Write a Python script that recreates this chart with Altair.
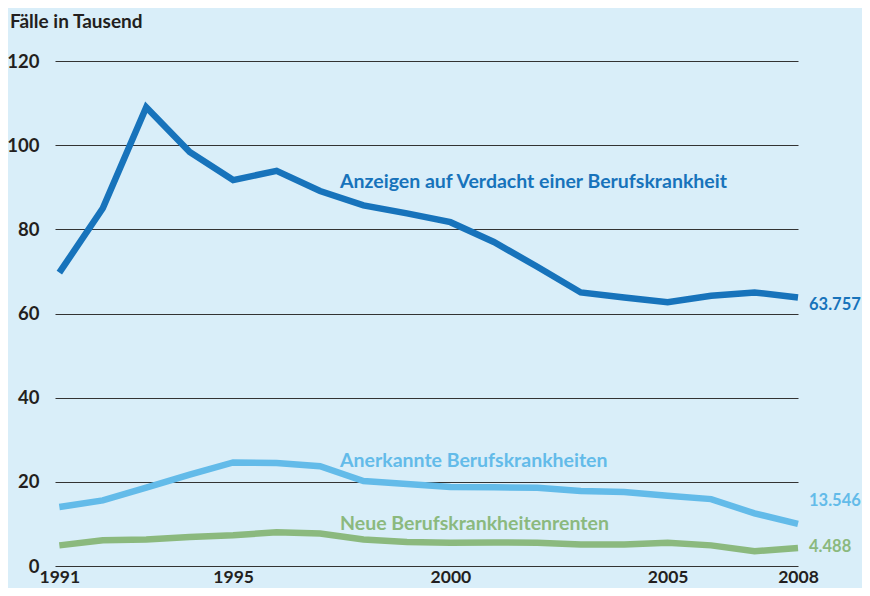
import altair as alt
import pandas as pd

years = list(range(1991, 2009))
anzeigen = [69.7, 85.0, 109.0, 98.4, 91.7, 93.9, 89.1, 85.7, 83.8, 81.7,
            77.0, 71.1, 65.0, 63.8, 62.7, 64.2, 65.0, 63.8]
anerkannt = [14.0, 15.6, 18.6, 21.7, 24.6, 24.5, 23.7, 20.2, 19.5, 18.8,
             18.7, 18.6, 17.8, 17.6, 16.7, 15.9, 12.5, 10.0]
renten = [4.9, 6.1, 6.3, 6.9, 7.3, 8.0, 7.7, 6.3, 5.7, 5.5,
          5.6, 5.5, 5.1, 5.1, 5.5, 4.9, 3.5, 4.3]

series_names = ["Anzeigen auf Verdacht einer Berufskrankheit",
                "Anerkannte Berufskrankheiten",
                "Neue Berufskrankheitenrenten"]
end_labels = ["63.757", "13.546", "4.488"]
x_ticks = [1991, 1995, 2000, 2005, 2008]
y_ticks = [0, 20, 40, 60, 80, 100, 120]
title_text = "Fälle in Tausend"

colors = ["#1773bb", "#63bbe9", "#8bb97e"]
text_dark = "#231f20"
FONT = "Lato"

rows = []
for name, vals in zip(series_names, [anzeigen, anerkannt, renten]):
    for y, v in zip(years, vals):
        rows.append({"Jahr": y, "Wert": v, "Reihe": name})
df = pd.DataFrame(rows)

lines = alt.Chart(df).mark_line(strokeWidth=6.5, strokeCap="butt", strokeJoin="miter").encode(
    x=alt.X("Jahr:Q",
            scale=alt.Scale(domain=[1990.9, 2008], nice=False, zero=False),
            axis=alt.Axis(values=x_ticks, format="d", title=None, grid=False,
                          domain=False, ticks=False, labelPadding=2,
                          labelFont=FONT, labelFontWeight="bold", labelFontSize=17.5,
                          labelColor=text_dark, labelFlush=False, labelBaseline="top")),
    y=alt.Y("Wert:Q",
            scale=alt.Scale(domain=[0, 120], nice=False),
            axis=alt.Axis(values=y_ticks, title=None, grid=True, gridColor="#333333",
                          gridWidth=1, domain=False, ticks=False, labelPadding=16,
                          labelFont=FONT, labelFontWeight="bold", labelFontSize=18.5,
                          labelColor=text_dark)),
    color=alt.Color("Reihe:N", scale=alt.Scale(domain=series_names, range=colors), legend=None),
)

# annotation placements (pixels relative to plot area)
series_pos = [(285, 121), (285, 400), (285, 463)]
end_pos = [(754, 244), (754, 440), (754, 486)]

layers = [lines]
for txt, col, (px, py) in zip(series_names, colors, series_pos):
    layers.append(alt.Chart(pd.DataFrame({"t": [txt]})).mark_text(
        align="left", baseline="middle", font=FONT, fontWeight="bold", fontSize=19.5, color=col
    ).encode(text="t:N", x=alt.value(px), y=alt.value(py)))
for txt, col, (px, py) in zip(end_labels, colors, end_pos):
    layers.append(alt.Chart(pd.DataFrame({"t": [txt]})).mark_text(
        align="left", baseline="middle", font=FONT, fontWeight="bold", fontSize=16.5, color=col
    ).encode(text="t:N", x=alt.value(px), y=alt.value(py)))
layers.append(alt.Chart(pd.DataFrame({"t": [title_text]})).mark_text(
    align="left", baseline="middle", font=FONT, fontWeight="bold", fontSize=19, color=text_dark
).encode(text="t:N", x=alt.value(-45), y=alt.value(-39)))

chart = alt.layer(*layers).properties(
    width=743, height=505,
    padding={"left": 47, "top": 53, "right": 64, "bottom": 22},
    autosize=alt.AutoSizeParams(type="none"),
    background="#d9eef9",
).configure_view(stroke=None)

chart.save("out.html", embed_options={"renderer": "svg", "actions": False})
